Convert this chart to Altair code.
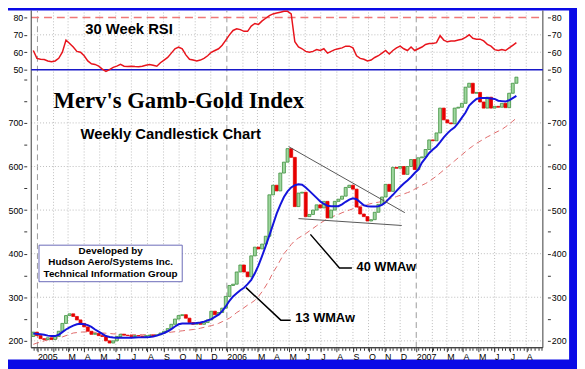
import altair as alt
import pandas as pd

# ---------------- data ----------------
WEEK_START = "2004-12-24"
OPEN0 = 210
CLOSES = [220, 212, 205, 203, 207, 203, 210, 222, 240, 258,
          262, 256, 248, 240, 232, 222, 215, 217, 212, 210,
          200, 195, 200, 210, 215, 213, 212, 210, 212, 211,
          210, 212, 213, 212, 214, 218, 222, 228, 238, 250,
          258, 260, 252, 242, 238, 240, 238, 242, 248, 268,
          260, 265, 275, 302, 327, 330, 358, 374, 358, 347,
          395, 415, 411, 422, 440, 535, 557, 544, 585, 610,
          641, 621, 508, 539, 541, 485, 490, 500, 512, 505,
          520, 482, 500, 520, 525, 532, 552, 557, 548, 507,
          491, 485, 475, 478, 495, 513, 530, 559, 543, 598,
          596, 600, 582, 600, 616, 593, 620, 622, 639, 661,
          659, 677, 734, 707, 700, 698, 734, 736, 745, 782,
          791, 768, 770, 748, 734, 759, 734, 738, 736, 745,
          735, 768, 791, 805]
RSI = [61, 56.5, 56, 55.8, 55, 54.5, 55, 56.5, 60, 67,
       65, 63, 60.5, 60, 58, 55, 53.4, 53, 52, 50.3,
       49, 50, 51.3, 52, 53, 52, 51.8, 52, 51.8, 51.7,
       52, 52.5, 53, 52.5, 52, 54, 55.5, 57, 59.5, 62,
       63, 62, 58.5, 56, 55.5, 55, 55.5, 56.5, 58, 60,
       61, 62, 64, 67, 70, 72.5, 73.5, 73, 72, 72,
       75, 76.5, 76, 78, 79.5, 81, 82, 82.5, 83, 83.5,
       83.5, 82, 66, 63, 62, 60.5, 60, 60.5, 61.5, 61,
       62, 59.5, 60.5, 61.5, 62, 62.5, 63.5, 63.5, 62.5, 58,
       56.5, 56, 55, 55.5, 57, 58, 59.5, 61, 59, 61,
       62.5, 63.5, 62, 61, 63, 61, 62, 63, 64.5, 65,
       65, 65.5, 69.5, 67, 66, 66.5, 66.5, 67, 67.5, 68.5,
       70, 68, 67.5, 67.5, 66.5, 64.5, 63.5, 61.5, 61, 61.5,
       61, 62.5, 64, 65.5]
WMA13 = [217, 216, 215, 214, 212, 211, 211, 214, 220, 226,
         231, 235, 238, 239, 238, 236, 232, 226, 221, 216,
         211, 209, 207.5, 207, 207, 207, 207, 207, 207.5, 208,
         208, 208.5, 209, 210, 212, 215, 218, 222, 227, 233,
         238, 240, 240, 240, 240, 241, 242, 244, 247, 250,
         255, 260, 268, 279, 292, 302, 309, 316, 322, 330,
         340, 355, 373, 395, 418, 442, 467, 492, 512, 530,
         543, 552, 557, 559, 558, 552, 544, 536, 528, 520,
         514, 510, 509, 509, 509, 513, 519, 524, 527, 525,
         518, 511, 509, 508, 508, 509, 512, 518, 527, 535,
         544, 553, 561, 568, 576, 585, 593, 609, 620, 631,
         639, 646, 656, 667, 676, 684, 690, 700, 712, 724,
         740, 748, 755, 757, 757, 757, 756, 755, 751, 750,
         749, 752, 757, 762]
WMA40 = [192, 195, 197, 200, 202, 204, 206, 207, 209, 212,
         215, 218, 219, 220, 220.5, 220.5, 220, 219.5, 219, 218,
         217.5, 217, 216, 216, 215.5, 215, 214.5, 214, 214, 214,
         214, 214, 214, 214, 215, 216, 217, 219, 220, 221,
         222, 223, 224, 225, 226, 227, 229, 231, 233, 235,
         237, 240, 244, 248, 252, 258, 265, 270, 276, 282,
         287, 293, 302, 313, 326, 340, 357, 370, 385, 400,
         410, 421, 430, 436, 441, 446, 452, 458, 464, 470,
         475, 480, 484, 487, 490, 494, 497, 500, 503, 506,
         509, 511, 513, 515, 517, 518, 520, 522, 525, 528,
         531, 534, 537, 540, 543, 548, 552, 557, 561, 566,
         572, 578, 585, 592, 599, 606, 613, 620, 627, 634,
         641, 647, 653, 658, 663, 668, 672, 677, 681, 685,
         691, 697, 704, 711]

YEARS = ["2005-01-01", "2006-01-01", "2007-01-01"]
FRAME_X = ["2004-12-20", "2007-09-02"]
VIEW_X = ["2004-11-14 18:00", "2007-10-13 02:00"]
PRICE_VIEW = [157.0, 957.9]
RSI_VIEW = [-116.4, 83.96]
AXIS_PRICE = 184.2
PRICE_TICKS = list(range(200, 801, 50))
PRICE_GRID = [200, 300, 400, 500, 600, 700]
RSI_TICKS = [50, 60, 70, 80]
RSI_GRID = [60, 70]

TRIANGLE = {"seg": ["u", "u", "l", "l"],
            "d": ["2006-04-30", "2006-12-10", "2006-05-19", "2006-12-04"],
            "v": [645.7, 494.1, 480.5, 464.7]}
LEADERS = {"seg": ["a", "a", "a", "b", "b", "b"],
           "i": [0, 1, 2, 0, 1, 2],
           "d": ["2006-06-11", "2006-08-06", "2006-08-30",
                 "2006-02-07", "2006-04-15", "2006-05-04"],
           "v": [444.3, 367.4, 367.4, 322.2, 247.5, 247.5]}
LABELS_MA = {"d": ["2006-09-08", "2006-05-13"], "v": [369.7, 252.0],
             "t": ["40 WMAw", "13 WMAw"]}
TITLE = {"d": ["2005-02-01"], "v": [749.8], "t": ["Merv's Gamb-Gold Index"]}
SUBTITLE = {"d": ["2005-03-25"], "v": [675.1], "t": ["Weekly Candlestick Chart"]}
RSI_TITLE = {"d": ["2005-04-03"], "v": [73.2], "t": ["30 Week RSI"]}
BOX = {"d0": ["2005-01-04"], "d1": ["2005-10-07"], "v0": [335.7], "v1": [419.5]}
BOX_TEXT = {"d": ["2005-05-22"] * 3, "v": [405.9, 381.0, 353.8],
            "t": ["Developed by", "Hudson Aero/Systems Inc.",
                  "Technical Information Group"]}

# ---------------- styling ----------------
BLUE_BG = "#0a0ae6"
FONT = "Liberation Sans"
SERIF = "Liberation Serif"
GRID = "#bdbdbd"
FRAME = "#3a3a3a"


def ms(s):
    return int(pd.Timestamp(s, tz="UTC").value // 10**6)


dates = pd.date_range(WEEK_START, periods=len(CLOSES), freq="7D")
opens = [OPEN0] + CLOSES[:-1]
df = pd.DataFrame({
    "date": dates.strftime("%Y-%m-%d"),
    "open": opens, "close": CLOSES,
    "rsi": RSI, "w13": WMA13, "w40": WMA40,
})
df["dir"] = ["up" if c >= o else "down" for o, c in zip(opens, CLOSES)]

months = [m for m in pd.date_range("2005-01-01", "2007-08-01", freq="MS")]
month_vals = [ms(m) for m in months]
grid_months = [m.strftime("%Y-%m-%d") for m in months if m.month != 1]
weeks = [ms(w) for w in pd.date_range(WEEK_START, "2007-08-31", freq="7D")]

XS = alt.Scale(type="utc", domain=[ms(VIEW_X[0]), ms(VIEW_X[1])])
PS = alt.Scale(domain=PRICE_VIEW, nice=False, zero=False)
RS = alt.Scale(domain=RSI_VIEW, nice=False, zero=False)


def X(field, axis=None):
    return alt.X(field, type="temporal", scale=XS, axis=axis)


def yaxis(orient, values, expr=None):
    kw = dict(orient=orient, values=values, offset=-19 if orient == "left" else -22,
              tickSize=3, tickColor="#333333", labelFont=FONT, labelFontSize=9,
              labelColor="black", labelPadding=1, domain=False, grid=False,
              title=None)
    if expr:
        kw["labelExpr"] = expr
    return alt.Axis(**kw)


price_expr = "(datum.value % 100 == 0 && datum.value < 800) ? datum.label : ''"

month_axis = alt.Axis(
    orient="bottom", values=month_vals, offset=-12, tickSize=4,
    tickColor="#333333", labelAlign="left", labelBaseline="top",
    labelPadding=1, labelFont=FONT, labelFontSize=9,
    labelColor="black", labelOverlap=False, labelFlush=False,
    domain=False, grid=False, title=None,
    labelExpr=("utcmonth(datum.value) == 0 ? '' + utcyear(datum.value) : "
               "(utcmonth(datum.value) == 1 ? '' : "
               "substring(utcFormat(datum.value, '%b'), 0, 1))"),
)
week_axis = alt.Axis(
    orient="bottom", values=weeks, offset=-12, tickSize=2.5,
    tickColor="#333333", labels=False, domain=False, grid=False, title=None,
)


def hrules(values, scale, axis=None, **mark):
    d = pd.DataFrame({"v": values, "x0": FRAME_X[0], "x1": FRAME_X[1]})
    return alt.Chart(d).mark_rule(**mark).encode(
        x=X("x0"), x2="x1", y=alt.Y("v:Q", scale=scale, axis=axis))


def vrules(xs, axis=None, **mark):
    d = pd.DataFrame({"x": xs, "y0": AXIS_PRICE, "y1": PRICE_VIEW[1]})
    return alt.Chart(d).mark_rule(**mark).encode(
        x=X("x", axis), y=alt.Y("y0:Q", scale=PS, axis=None), y2="y1")


def text_layer(data, scale, **mark):
    return alt.Chart(pd.DataFrame(data)).mark_text(**mark).encode(
        x=X("d"), y=alt.Y("v:Q", scale=scale, axis=None), text="t:N")


layers = []
# grids
layers.append(vrules(grid_months, axis=month_axis, color=GRID,
                     strokeDash=[1, 2], strokeWidth=1))
layers.append(vrules(YEARS, color="#9a9a9a", strokeDash=[6, 4], strokeWidth=1))
layers.append(hrules(PRICE_GRID, PS, axis=yaxis("left", PRICE_TICKS, price_expr),
                     color=GRID, strokeDash=[1, 2], strokeWidth=1))
layers.append(hrules(RSI_GRID, RS, axis=yaxis("left", RSI_TICKS),
                     color=GRID, strokeDash=[1, 2], strokeWidth=1))
layers.append(hrules([80], RS, color="#f07878", strokeDash=[8, 5],
                     strokeWidth=1.5))
# frame
layers.append(vrules(FRAME_X, color=FRAME, strokeWidth=1))
layers.append(hrules([AXIS_PRICE], PS, axis=yaxis("right", PRICE_TICKS, price_expr),
                     color=FRAME, strokeWidth=1))
# price marks
layers.append(alt.Chart(df).mark_line(color="#e06a6a", strokeDash=[6, 4],
                                      strokeWidth=1).encode(
    x=X("date"), y=alt.Y("w40:Q", scale=PS, axis=None)))
layers.append(alt.Chart(df).mark_bar(size=3, strokeWidth=0.8).encode(
    x=X("date"),
    y=alt.Y("open:Q", scale=PS, axis=None), y2="close:Q",
    fill=alt.Fill("dir:N", scale=alt.Scale(domain=["up", "down"],
                                           range=["#9fd79f", "#e60000"]),
                  legend=None),
    stroke=alt.Stroke("dir:N", scale=alt.Scale(domain=["up", "down"],
                                               range=["#3d8f3d", "#e60000"]),
                      legend=None),
))
layers.append(alt.Chart(df).mark_line(color="#1414dc", strokeWidth=2).encode(
    x=X("date"), y=alt.Y("w13:Q", scale=PS, axis=None)))
# RSI
layers.append(hrules([50], RS, axis=yaxis("right", RSI_TICKS),
                     color="#1818c8", strokeWidth=1.5))
layers.append(alt.Chart(df).mark_line(color="#e8141c", strokeWidth=1.5).encode(
    x=X("date"), y=alt.Y("rsi:Q", scale=RS, axis=None)))
# annotations
layers.append(alt.Chart(pd.DataFrame(TRIANGLE)).mark_line(
    color="#555555", strokeWidth=1).encode(
    x=X("d"), y=alt.Y("v:Q", scale=PS, axis=None), detail="seg:N"))
layers.append(alt.Chart(pd.DataFrame(LEADERS)).mark_line(
    color="black", strokeWidth=1.5).encode(
    x=X("d"), y=alt.Y("v:Q", scale=PS, axis=None), detail="seg:N",
    order="i:Q"))
layers.append(text_layer(LABELS_MA, PS, align="left", baseline="middle",
                         font=FONT, fontSize=13, fontWeight="bold",
                         color="black"))
layers.append(text_layer(TITLE, PS, align="left", baseline="middle", font=SERIF,
                         fontSize=23, fontWeight="bold", color="black"))
layers.append(text_layer(SUBTITLE, PS, align="left", baseline="middle",
                         font=FONT, fontSize=15, fontWeight="bold",
                         color="black"))
layers.append(text_layer(RSI_TITLE, RS, align="left", baseline="middle",
                         font=FONT, fontSize=15, fontWeight="bold",
                         color="black"))
layers.append(alt.Chart(pd.DataFrame(BOX)).mark_rect(
    fill="white", stroke="#6a6ab8", strokeWidth=1).encode(
    x=X("d0"), x2="d1", y=alt.Y("v0:Q", scale=PS, axis=None), y2="v1"))
layers.append(text_layer(BOX_TEXT, PS, align="center", baseline="middle",
                         font=FONT, fontSize=10, fontWeight="bold",
                         color="black"))
# weekly minor ticks on the time axis
layers.append(hrules([AXIS_PRICE], PS, color=FRAME, strokeWidth=1).encode(
    x=X("x0", week_axis)))

chart = alt.layer(*layers).resolve_scale(y="independent").resolve_axis(
    x="independent", y="independent").properties(
    width=569, height=354,
    padding={"left": 0, "top": 0, "right": 8, "bottom": 7},
    autosize=alt.AutoSizeParams(type="none"),
    background=BLUE_BG,
).configure_view(fill="white", stroke=None)

chart.save("out.html", embed_options={"renderer": "svg", "actions": False})
